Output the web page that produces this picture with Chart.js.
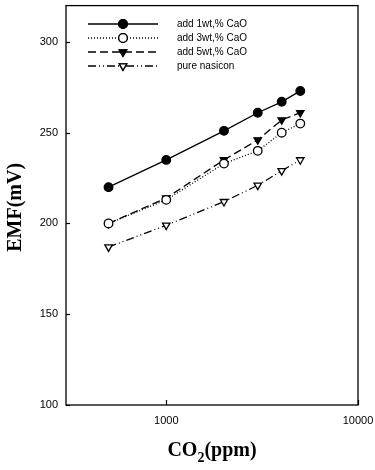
<!DOCTYPE html>
<html>
<head>
<meta charset="utf-8">
<script src="https://cdn.jsdelivr.net/npm/chart.js@4/dist/chart.umd.min.js"></script>
<style>
  html, body { margin: 0; padding: 0; background: #fff; }
  #wrap { width: 375px; height: 470px; }
</style>
</head>
<body>
<div id="wrap"><canvas id="myChart" width="375" height="470"></canvas></div>
<script>
// data
let concs = [500, 1000, 2000, 3000, 4000, 5000];
let emf1wt = [220, 235, 251, 261, 267, 273];
let emf3wt = [200, 213, 233, 240, 250, 255];
let emf5wt = [200, 214, 235, 246, 257, 261];
let emfPure = [187, 199, 212, 221, 229, 235];
let seriesNames = ['add 1wt,% CaO', 'add 3wt,% CaO', 'add 5wt,% CaO', 'pure nasicon'];
let xTicks = [1000, 10000];
let yTicks = [100, 150, 200, 250, 300];

function toPoints(vals) {
  let pts = [];
  for (let i = 0; i < concs.length; i++) {
    pts.push({ x: concs[i], y: vals[i] });
  }
  return pts;
}

function makeSet(name, vals, dash, style, filled) {
  return {
    label: name,
    data: toPoints(vals),
    borderColor: '#000',
    borderWidth: 1.3,
    borderDash: dash,
    backgroundColor: filled ? '#000' : '#fff',
    pointBorderColor: '#000',
    pointBackgroundColor: filled ? '#000' : '#fff',
    pointBorderWidth: 1.3,
    pointStyle: style,
    pointRotation: style === 'triangle' ? 180 : 0,
    pointRadius: 4.3,
    fill: false,
    tension: 0
  };
}

// no label overhang padding, so the plot box sits where the figure has it
function noPad(s) {
  s.paddingTop = 0;
  s.paddingBottom = 0;
  s.paddingLeft = 0;
  s.paddingRight = 0;
}

// frame, inward ticks, titles and the legend
let extras = {
  id: 'extras',
  afterDraw(chart) {
    let ctx = chart.ctx;
    let a = chart.chartArea;
    let xs = chart.scales.x;
    let ys = chart.scales.y;
    ctx.save();
    ctx.strokeStyle = '#000';
    ctx.lineWidth = 1.3;
    ctx.setLineDash([]);
    ctx.strokeRect(a.left, a.top, a.right - a.left, a.bottom - a.top);

    ctx.lineWidth = 1.2;
    for (let v of yTicks) {
      let y = Math.round(ys.getPixelForValue(v)) + 0.5;
      ctx.beginPath();
      ctx.moveTo(a.left, y);
      ctx.lineTo(a.left + 4, y);
      ctx.stroke();
    }
    for (let v of xTicks) {
      let x = Math.round(xs.getPixelForValue(v)) + 0.5;
      ctx.beginPath();
      ctx.moveTo(x, a.bottom);
      ctx.lineTo(x, a.bottom - 5);
      ctx.stroke();
    }

    // y title
    ctx.fillStyle = '#000';
    ctx.font = 'bold 20px "Liberation Serif"';
    ctx.textAlign = 'center';
    ctx.textBaseline = 'middle';
    ctx.save();
    ctx.translate(16, (a.top + a.bottom) / 2 + 2);
    ctx.rotate(-Math.PI / 2);
    ctx.fillText('EMF(mV)', 0, 0);
    ctx.restore();

    // x title with subscript
    let big = 'bold 20px "Liberation Serif"';
    let small = 'bold 14px "Liberation Serif"';
    ctx.textBaseline = 'alphabetic';
    ctx.textAlign = 'left';
    ctx.font = big;
    let w1 = ctx.measureText('CO').width;
    let w3 = ctx.measureText('(ppm)').width;
    ctx.font = small;
    let w2 = ctx.measureText('2').width;
    let x0 = (a.left + a.right) / 2 - (w1 + w2 + w3) / 2;
    let base = 456;
    ctx.font = big;
    ctx.fillText('CO', x0, base);
    ctx.font = small;
    ctx.fillText('2', x0 + w1, base + 6);
    ctx.font = big;
    ctx.fillText('(ppm)', x0 + w1 + w2, base);

    // legend
    ctx.font = '10px "Liberation Sans"';
    ctx.textBaseline = 'middle';
    let sets = chart.data.datasets;
    for (let i = 0; i < sets.length; i++) {
      let ds = sets[i];
      let y = 24 + i * 14;
      ctx.lineWidth = ds.borderWidth;
      ctx.setLineDash(ds.borderDash);
      ctx.beginPath();
      ctx.moveTo(88, y);
      ctx.lineTo(158, y);
      ctx.stroke();
      ctx.setLineDash([]);
      Chart.helpers.drawPoint(ctx, {
        pointStyle: ds.pointStyle,
        rotation: ds.pointRotation,
        radius: ds.pointRadius,
        borderWidth: ds.pointBorderWidth
      }, 123, y);
      ctx.fillStyle = ds.pointBackgroundColor;
      ctx.fill();
      ctx.stroke();
      ctx.fillStyle = '#000';
      ctx.fillText(ds.label, 177, y);
    }
    ctx.restore();
  }
};

let ctx = document.getElementById('myChart').getContext('2d');
let myChart = new Chart(ctx, {
  type: 'line',
  data: {
    datasets: [
      makeSet(seriesNames[0], emf1wt, [], 'circle', true),
      makeSet(seriesNames[1], emf3wt, [1, 2], 'circle', false),
      makeSet(seriesNames[2], emf5wt, [8, 4], 'triangle', true),
      makeSet(seriesNames[3], emfPure, [8, 3, 1, 3, 1, 3], 'triangle', false)
    ]
  },
  options: {
    responsive: false,
    animation: false,
    layout: { padding: { top: 5, right: 17, left: 0, bottom: 0 } },
    plugins: {
      legend: { display: false },
      tooltip: { enabled: false }
    },
    scales: {
      x: {
        type: 'logarithmic',
        min: 300,
        max: 10000,
        grid: { display: false, drawTicks: false },
        border: { display: false },
        afterBuildTicks: s => { s.ticks = xTicks.map(v => ({ value: v })); },
        afterFit: s => { s.height = 65; noPad(s); },
        ticks: {
          color: '#000',
          font: { family: 'Liberation Sans', size: 11 },
          padding: 9,
          maxRotation: 0,
          callback: v => String(v)
        }
      },
      y: {
        min: 100,
        max: 320,
        grid: { display: false, drawTicks: false },
        border: { display: false },
        afterBuildTicks: s => { s.ticks = yTicks.map(v => ({ value: v })); },
        afterFit: s => { s.width = 66; noPad(s); },
        ticks: {
          color: '#000',
          font: { family: 'Liberation Sans', size: 11 },
          padding: 8
        }
      }
    }
  },
  plugins: [extras]
});
</script>
</body>
</html>
